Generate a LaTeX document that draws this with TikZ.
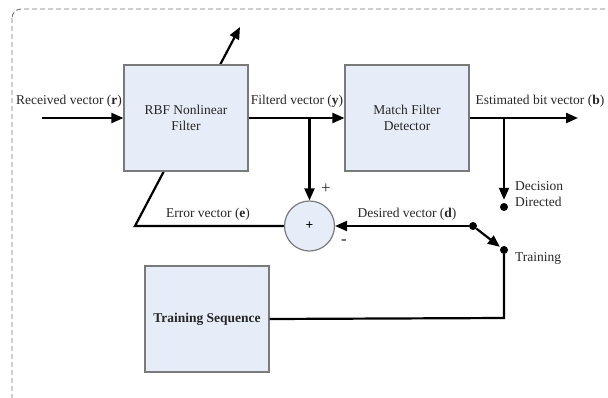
\documentclass[tikz,border=0pt]{standalone}
\usepackage{fontspec}
\setmainfont{Liberation Serif}
\usetikzlibrary{arrows.meta,calc}
\pgfdeclarelayer{background}
\pgfsetlayers{background,main}
\definecolor{boxfill}{HTML}{E7EDF8}
\definecolor{boxline}{HTML}{7A7A7A}
\definecolor{txt}{HTML}{262626}
\begin{document}
\begin{tikzpicture}[x=1pt,y=-1pt,
  font=\fontsize{13.5}{16}\selectfont,
  blk/.style={draw=boxline,fill=boxfill,line width=1.2pt,minimum width=124pt,minimum height=106pt,align=center,text=txt,inner sep=0pt},
  sumnode/.style={circle,draw=boxline,fill=boxfill,line width=1.2pt,minimum size=50pt,inner sep=0pt},
  sig/.style={line width=2.2pt,black},
  tip/.style={-{Triangle[length=12pt,width=10pt]}},
  dotnode/.style={circle,fill=black,minimum size=8pt,inner sep=0pt},
  lbl/.style={text=txt,inner sep=0pt}]
\useasboundingbox (0,0) rectangle (608,397);
\begin{scope}
\clip (0,0) rectangle (608,397);
\draw[dash pattern=on 5pt off 3pt,color=black!55,line width=0.9pt,rounded corners=9pt] (12,9) rectangle (640,420);
\end{scope}
% blocks
\node[blk] (rbf) at (186,118) {RBF Nonlinear\\Filter};
\node[blk] (mf) at (407,118) {Match Filter\\Detector};
\node[blk] (ts) at (207,319) {\textbf{Training Sequence}};
\node[sumnode] (sum) at (309.5,226) {\textbf{+}};
% points
\coordinate (in) at (42,118);
\coordinate (out) at (578,118);
\coordinate (ybr) at (309.5,118);
\coordinate (bbr) at (504,118);
\coordinate (ecorner) at (135,226);
\coordinate (adapt) at (240,27);
\coordinate (tcorner) at (504,318);
\node[dotnode] (dd) at (504,207) {};
\node[dotnode] (piv) at (473,226) {};
\node[dotnode] (trn) at (504,250) {};
% connectors
\draw[sig,tip] (in) -- (rbf.west);
\draw[sig,tip] (rbf.east) -- (mf.west);
\draw[sig,tip] (mf.east) -- (out);
\draw[sig,tip] (ybr) -- (sum.north);
\draw[sig,tip,shorten >=3pt] (bbr) -- (dd.north);
\begin{pgfonlayer}{background}
\draw[sig,tip] (sum.west) -- (ecorner) -- (adapt);
\end{pgfonlayer}
\draw[sig,tip] (piv) -- (sum.east);
\draw[sig,tip,shorten >=1pt] (piv) -- (trn);
\draw[sig] (trn) -- (tcorner) -- (ts.east);
% labels
\node[lbl,anchor=west] (lr) at (16,101) {Received vector (\textbf{r})};
\node[lbl] (ly) at (297,101) {Filterd vector (\textbf{y})};
\node[lbl] (lb) at (540,101) {Estimated bit vector (\textbf{b})};
\node[lbl] (le) at (208,214) {Error vector (\textbf{e})};
\node[lbl] (ld) at (407,214) {Desired vector (\textbf{d})};
\node[lbl,font=\fontsize{17}{17}\selectfont] (lp) at (326,189) {+};
\node[lbl,font=\fontsize{17}{17}\selectfont] (lm) at (344,242) {-};
\node[lbl,anchor=west,align=left] (ldd) at (515,194) {Decision\\Directed};
\node[lbl,anchor=west] (lt) at (515,258) {Training};
\end{tikzpicture}
\end{document}
